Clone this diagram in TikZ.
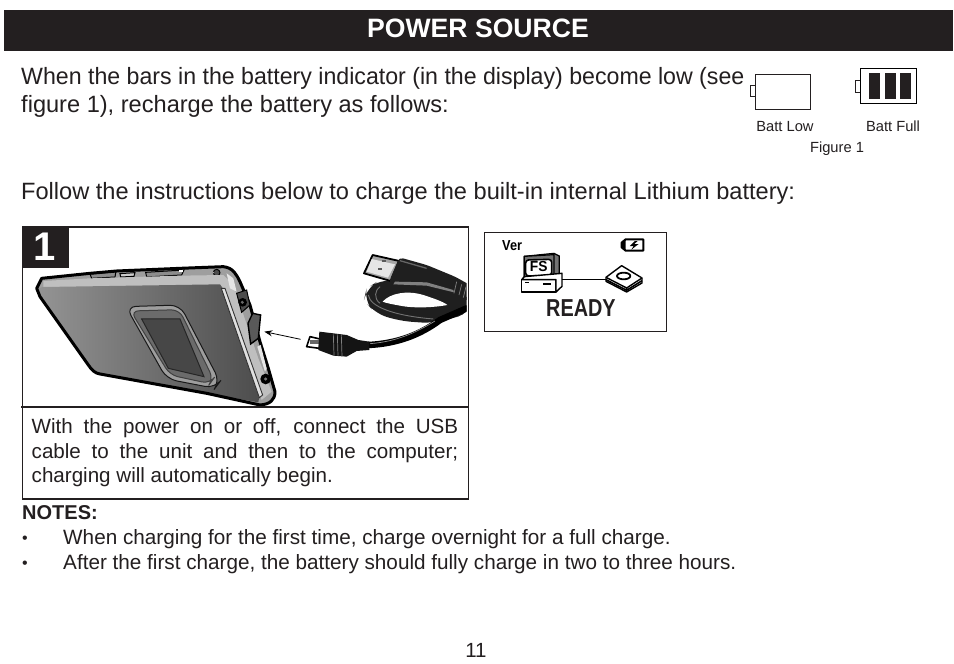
\documentclass[tikz,border=0pt]{standalone}
\usepackage{fontspec}
\setmainfont{Liberation Sans}
\usetikzlibrary{arrows.meta,calc}
\definecolor{ink}{HTML}{231F20}
\tikzset{
  txt/.style={anchor=base west,inner sep=0,text=ink,font=\fontsize{23.6}{28}\selectfont},
  boxtxt/.style={anchor=base west,inner sep=0,text=ink,font=\fontsize{20.6}{24}\selectfont},
  note/.style={anchor=base west,inner sep=0,text=ink,font=\fontsize{20.7}{24}\selectfont},
  small/.style={anchor=base,inner sep=0,text=ink,font=\fontsize{14.7}{17}\selectfont},
  frame/.style={draw=ink,line width=1.6pt},
  batt/.style={draw=ink,line width=.9pt,fill=white},
  lcd/.style={draw=black,line width=1.4pt,fill=white,line join=round},
  dev/.style={draw=black,line join=round},
  cable/.style={draw=black,line cap=round,line join=round}
}
\begin{document}
\begin{tikzpicture}[x=1pt,y=-1pt]
\useasboundingbox (0,0) rectangle (954,664);
\fill[white] (0,0) rectangle (954,664);
% title bar
\node[anchor=north west,inner sep=0,minimum width=949pt,minimum height=41pt,fill=ink] (bar) at (4,10) {};
\node[anchor=base,inner sep=0,text=white,font=\bfseries\fontsize{26.6}{30}\selectfont] (title) at (478,37) {POWER SOURCE};
% intro
\node[txt] (l1) at (21,84) {\scalebox{.981}[1]{When the bars in the battery indicator (in the display) become low (see}};
\node[txt] (l2) at (21,112) {figure 1), recharge the battery as follows:};
\node[txt] (l3) at (21,199) {Follow the instructions below to charge the built-in internal Lithium battery:};
% batteries
\node[batt,anchor=north west,inner sep=0,minimum width=5pt,minimum height=11pt] (lown) at (749.5,85) {};
\node[batt,anchor=north west,inner sep=0,minimum width=55.5pt,minimum height=35pt] (low) at (754.5,73.5) {};
\node[batt,anchor=north west,inner sep=0,minimum width=5pt,minimum height=12pt] (fulln) at (855,80) {};
\node[batt,draw=black,line width=1.1pt,anchor=north west,inner sep=0,minimum width=56pt,minimum height=35pt] (full) at (860,67.5) {};
\foreach \x in {869,885,900}{\fill[ink] (\x,73) rectangle ++(11,25.5);}
\node[small] (bl) at (785,131) {Batt Low};
\node[small] (bf) at (893,131) {Batt Full};
\node[small] (fig) at (837,152) {Figure 1};
% LCD panel
\node[anchor=north west,inner sep=0,draw=ink,line width=1.4pt,minimum width=182pt,minimum height=99pt] (lcdp) at (484,232) {};
\node[anchor=base west,inner sep=0,font=\bfseries\fontsize{14.5}{16}\selectfont] (ver) at (502,250.5) {\scalebox{.88}[1]{Ver}};
\node[anchor=base west,inner sep=0,font=\bfseries\fontsize{24.5}{28}\selectfont,text=ink] (ready) at (546,316.5) {\scalebox{.81}[1]{READY}};
\begin{scope}[shift={(480,228)},x=.3333pt,y=-.3333pt]
 % small battery icon
 \draw[line width=2pt,fill=white,line join=round] (437,34)--(490,34)--(490,68)--(437,68)--(425,58)--(425,44)--cycle;
 \fill[black] (425,44)--(437,36)--(437,66)--(425,58)--cycle;
 \fill[black] (465,39)--(450,54)--(461,54)--(454,65)--(476,48)--(463,48)--(473,39)--cycle;
 % computer
 \draw[black,line width=1.2pt,fill=black!55,line join=round] (133,85)--(222,76)--(238,84)--(238,135)--(222,150)--(133,150)--cycle;
 \draw[black,line width=1.2pt,fill=black!55] (133,85)--(222,80)--(222,150)--(133,150)--cycle;
 \draw[lcd,line width=1.6pt,rounded corners=3pt] (137,96)--(215,94)--(215,142)--(137,144)--cycle;
 \draw[lcd] (125,155)--(228,155)--(228,192)--(125,192)--cycle;
 \draw[lcd] (125,155)--(133,146)--(246,136)--(246,175)--(228,192)--(228,155)--cycle;
 \fill[black] (136,162) rectangle (147,165); \fill[black] (190,165) rectangle (212,170);
 \coordinate (pc) at (246,155);
 % disk
 \draw[lcd] (378,148)--(378,160)--(440,192)--(486,165)--(486,150)--(425,113)--cycle;
 \draw[lcd] (378,148)--(440,180)--(486,150);
 \draw[line width=1.6pt] (378,155)--(440,187)--(486,158) (440,180)--(440,192);
 \draw[lcd,line width=1.8pt] (431,144) ellipse [x radius=20,y radius=10];
 \coordinate (dk) at (378,155);
 \draw[line width=1pt] (pc)--(dk);
 \node[anchor=base,inner sep=0,font=\bfseries\fontsize{14.5}{17}\selectfont] (fs) at (176,131) {\scalebox{.95}[1]{FS}};
\end{scope}
% device
\begin{scope}[shift={(20,225)},x=.3333pt,y=-.3333pt]
 \clip (3,3) rectangle (1344,543);
 \fill[black!38] (50,190)--(65,160)--(210,145)--(290,138)--(480,130)--(610,125)
   ..controls (640,128) and (650,150)..(660,170)--(690,240)--(720,350)--(745,430)--(765,500)
   ..controls (765,525) and (750,538)..(720,540)--(560,505)--(240,447)
   ..controls (225,445) and (215,435)..(205,420)--(60,215)--cycle;
 % buttons
 \fill[black!45,draw=black,line width=1pt] (210,147)--(288,140)--(285,156)--(215,160)--cycle;
 \fill[black!20,draw=black,line width=1pt] (300,146)--(345,143)--(342,154)--(302,156)--cycle;
 \fill[black!45,draw=black,line width=1pt] (377,142)--(492,135)--(485,150)--(380,156)--cycle;
 \fill[white] (478,136) rectangle (490,142);
 \fill[black!70,draw=black,line width=1pt] (590,143) circle (10);
 \fill[black!25] (580,143) circle (2);
 % light edge
 \fill[black!25] (70,168)--(210,160)--(480,152)--(610,150)--(640,180)--(715,400)--(755,500)--(725,525)--(600,180)--(70,188)--cycle;
 \fill[black!10] (620,145)--(640,160)--(650,200)--(630,190)--cycle;
 % face
 \shade[left color=black!42,right color=black!70]
   (52,190)--(70,186)--(600,178)--(612,195)--(722,495)--(715,532)--(560,505)--(240,447)--(205,420)--(60,215)--cycle;
 \draw[black!80,line width=.9pt,fill=black!12] (604,190)--(615,190)--(728,510)--(718,518)--cycle;
 % window
 \draw[black!90,line width=1pt,fill=black!38,rounded corners=10pt] (318,245)--(480,240)--(600,470)--(585,490)--(440,462)--cycle;
 \draw[black!75,line width=1pt,fill=black!58,rounded corners=8pt] (332,258)--(478,254)--(580,462)--(570,476)--(450,450)--cycle;
 \fill[black!72,draw=black!85,line width=1pt] (365,282)--(480,282)--(552,455)--(445,430)--cycle;
 % outline
 \draw[dev,line width=3pt] (50,190)--(65,160)--(210,145)--(290,138)--(480,130)--(610,125)
   ..controls (640,128) and (650,150)..(660,170)--(690,240)--(720,350)--(745,430)--(765,500)
   ..controls (765,525) and (750,538)..(720,540)--(560,505)--(240,447)
   ..controls (225,445) and (215,435)..(205,420)--(60,215)--cycle;
 % side details
 \fill[black!70,draw=black,line width=1pt] (650,205)--(680,195)--(690,240)--(665,262)--cycle;
 \fill[black] (668,232) circle (13); \fill[black!60] (667,232) circle (5);
 \fill[black!65,draw=black,line width=1.4pt] (698,265)--(722,270)--(715,340)--(692,357)--(684,295)--cycle;
 \fill[black!10] (722,360)--(740,430)--(735,440)--(712,365)--cycle;
 \fill[black] (737,462) circle (16); \fill[black!55] (737,462) circle (5);
\end{scope}
% cable
\begin{scope}[shift={(300,245)},x=.3333pt,y=-.3333pt]
 \clip (0,0) rectangle (500,360);
 % loop
 \fill[black!88,rounded corners=12pt] (240,105)--(200,130)--(192,165)--(225,205)--(300,228)--(400,235)--(510,205)--(510,150)--(400,110)--cycle;
 \fill[white] (248,170)..controls (270,145) and (320,135)..(370,150)..controls (400,160) and (430,170)..(442,180)..controls (400,188) and (340,190)..(300,182)..controls (280,178) and (260,175)..(248,170)--cycle;
 \draw[black!55,line width=.9pt] (205,150)..controls (210,185) and (280,212)..(400,222);
 \draw[black!55,line width=.9pt] (240,125)..controls (225,135) and (220,160)..(240,175);
 % cable to mini plug
 \draw[cable,line width=6.5pt] (205,300)..controls (290,296) and (360,270)..(420,225)--(500,190);
 \draw[black!45,line width=.7pt] (210,296)..controls (290,290) and (350,262)..(405,228);
 % usb plug
 \draw[black,line width=1.8pt,fill=black!35,line join=round] (218,30)--(298,48)--(272,108)--(192,85)--cycle;
 \fill[black!10] (215,42)--(285,58)--(264,98)--(200,80)--cycle;
 \fill[black!65] (245,44) rectangle ++(12,8); \fill[black!65] (233,68) rectangle ++(12,8);
 \fill[black!88,rounded corners=4pt] (298,37)--(380,60)--(465,95)--(510,120)--(510,170)--(470,150)--(380,128)--(272,125)--(268,108)--cycle;
 \fill[black!50] (285,110)--(380,112)--(460,135)--(462,142)--(380,122)--(280,118)--cycle;
 \fill[black!60] (300,45)--(380,68)--(380,72)--(300,49)--cycle;
 \draw[black!50,line width=.7pt] (470,110)--(462,145) (485,118)--(477,150) (498,125)--(490,158);
 % mini plug
 \draw[black,line width=1.6pt,fill=white,line join=round] (30,275)--(60,282)--(58,310)--(20,305)--cycle;
 \fill[black!60] (30,285) rectangle (56,296);
 \fill[black!92,line join=round] (58,260)--(100,265)--(140,270)--(175,285)--(208,290)--(208,315)--(170,318)--(140,335)--(100,332)--(55,315)--cycle;
 \draw[black!50,line width=.7pt] (100,268)--(102,330) (112,268)--(114,332) (124,270)--(126,333);
\end{scope}
% arrow
\begin{scope}[shift={(20,225)},x=.3333pt,y=-.3333pt]
 \coordinate (af) at (842,343);
 \coordinate (at) at (733,320);
 \draw[-{Stealth[length=8pt,width=6pt]},black,line width=.8pt] (af)--(at);
\end{scope}
% panel
\node[anchor=north west,inner sep=0,frame,minimum width=446pt,minimum height=272pt] (panel) at (21.5,226) {};
\node[anchor=north west,inner sep=0,fill=ink,minimum width=47pt,minimum height=42pt] (numbox) at (22,226) {};
\node[anchor=base,inner sep=0,text=white,font=\bfseries\fontsize{40}{46}\selectfont] (num) at (45,260) {1};
\coordinate (dl) at (21,407); \coordinate (dr) at (468,407);
\draw[frame] (dl)--(dr);
\node[boxtxt] (b1) at (31.5,433) {\makebox[426.5pt][s]{With the power on or off, connect the USB}};
\node[boxtxt] (b2) at (31.5,458) {\makebox[426.5pt][s]{cable to the unit and then to the computer;}};
\node[boxtxt] (b3) at (31.5,482) {charging will automatically begin.};
% notes
\node[anchor=base west,inner sep=0,text=ink,font=\bfseries\fontsize{20}{21}\selectfont] (notes) at (22,519) {NOTES:};
\node[anchor=base west,inner sep=0,text=ink,font=\fontsize{16}{20}\selectfont] (d1) at (22,543) {•};
\node[note] (n1) at (63,544) {When charging for the first time, charge overnight for a full charge.};
\node[anchor=base west,inner sep=0,text=ink,font=\fontsize{16}{20}\selectfont] (d2) at (22,568) {•};
\node[note] (n2) at (63,569) {After the first charge, the battery should fully charge in two to three hours.};
\node[anchor=base,inner sep=0,text=ink,font=\fontsize{20.5}{22}\selectfont] (page) at (476,657) {11};
\end{tikzpicture}
\end{document}
